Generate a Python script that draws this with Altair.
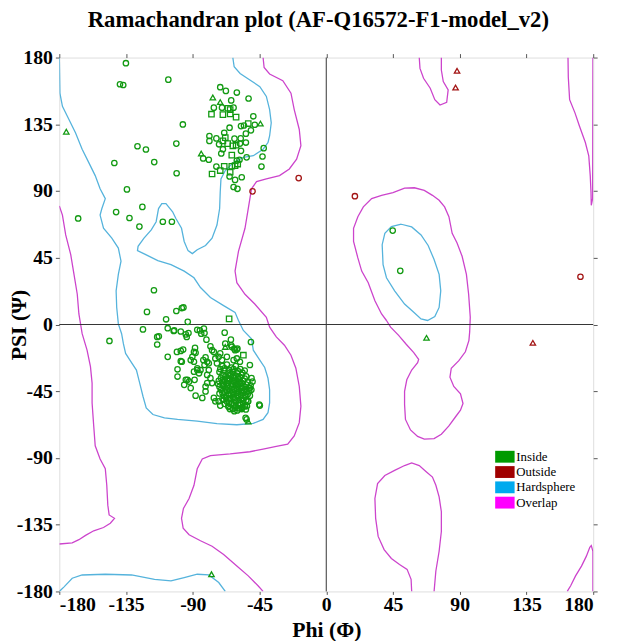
import altair as alt
import pandas as pd

TITLE = "Ramachandran plot (AF-Q16572-F1-model_v2)"
X_TITLE = "Phi (Φ)"
Y_TITLE = "PSI (Ψ)"
TICKS = [-180, -135, -90, -45, 0, 45, 90, 135, 180]
LEGEND_LABELS = ["Inside", "Outside", "Hardsphere", "Overlap"]
LEGEND_COLORS = ["#009a00", "#a00000", "#00aaee", "#ff00ff"]
POINT_COLORS = ["#129a12", "#a31515"]
HARD_COLOR = "#55b3dc"
OVER_COLOR = "#cc44cc"
FONT = "Liberation Serif"

# ---------- contours (phi, psi) ----------
HARD_MAIN = [(-180, 180), (-179.6, 156), (-177.9, 147.1), (-173.5, 138.2), (-169.1, 129.3), (-164.6, 118.2),
             (-160.2, 109.3), (-155.8, 100.4), (-152.5, 91.5), (-149, 84.9), (-151.3, 78.2), (-152.5, 73.8),
             (-150.2, 64.9), (-144.6, 58.2), (-140.2, 51.5), (-138.4, 42.7), (-140.2, 33.8), (-141.7, 22.7),
             (-141.3, 11.5), (-140.2, 0.4), (-138, -6.2), (-136.8, -12.9), (-135.3, -19.5), (-132.4, -24),
             (-128, -30.7), (-125.8, -39.5), (-123.6, -48.4), (-121.4, -56.2), (-116.9, -60.7), (-109.1, -62.9),
             (-100.3, -64), (-87, -65.1), (-73.7, -66.9), (-60.3, -67.6), (-49.2, -66.7), (-42.6, -64),
             (-39.3, -59.5), (-38.2, -52.9), (-38.2, -44), (-39.3, -36.2), (-41.5, -29), (-44.8, -24),
             (-49.2, -17.3), (-50.4, -9.6), (-55.9, -4), (-59.2, 2.7), (-61.5, 8.2), (-69.2, 12.7),
             (-78.1, 18.2), (-84.8, 24.9), (-89.2, 31.5), (-95.8, 36), (-104.7, 40.4), (-113.6, 43.1),
             (-122.4, 47.5), (-127.3, 49.8), (-126.9, 52.7), (-122.9, 58.2), (-118, 63.8), (-114.7, 69.3),
             (-113.1, 78.2), (-110.9, 81.5), (-108.1, 81.5), (-103.6, 76), (-101.4, 71.5), (-97.6, 64.9),
             (-95.8, 56), (-93.2, 49.8), (-90.3, 47.8), (-87, 50.4), (-81.4, 53.3), (-77, 58.2), (-73.7, 67.1),
             (-71.9, 78.2), (-71.5, 89.3), (-71, 98.2), (-68.1, 103.8), (-62.5, 109.3), (-55.9, 112.7),
             (-49.2, 113.8), (-42.6, 118.2), (-39.3, 122.7), (-38.2, 127.1), (-37.1, 136), (-38.2, 144.9),
             (-40.4, 153.8), (-44.8, 160.4), (-51.5, 164.9), (-58.1, 169.3), (-62.1, 173.8), (-63, 180)]
HARD_BOTTOM = [(-180, -180), (-176.8, -176.9), (-171.3, -171.1), (-164.6, -168.9), (-149, -168.4),
               (-131.3, -168.9), (-115.8, -171.8), (-104.7, -172.9), (-95.8, -170.7), (-87, -168.4),
               (-79.2, -168.9), (-72.5, -174), (-68.1, -180)]
HARD_OVAL = [(50.6, 67.6), (57.6, 65.8), (63.9, 60.4), (68.7, 53.3), (72.7, 43.8), (76.1, 33.8), (77.2, 22.7),
             (76.1, 11.5), (73.2, 5.3), (68.3, 2.7), (63.9, 3.8), (59, 8.2), (52.8, 13.8), (46.1, 22.7),
             (40.6, 31.5), (38.3, 40.4), (37.7, 53.8), (39.5, 61.5), (43.9, 66), (50.6, 67.6)]

OVER_LEFT = [(-180, 80), (-177.9, 73.8), (-175.7, 60.4), (-172.3, 47.1), (-170.1, 33.8), (-167.9, 20.4),
             (-166.8, 7.1), (-164.6, -6.2), (-161.3, -17.3), (-159, -28.4), (-157.9, -39.5), (-157.9, -52.9),
             (-156.8, -68.4), (-155.8, -81.8), (-152.5, -90.7), (-149, -97.3), (-148, -108.4), (-147.3, -121.8),
             (-146.4, -128.4), (-142.8, -130.7), (-145.6, -134), (-150.2, -136.9), (-156.8, -139.1),
             (-162.3, -142.2), (-166.8, -145.1), (-171.3, -147.3), (-180, -148)]
OVER_CENTER = [(-42.6, 180), (-41.9, 173.3), (-38.2, 168.9), (-29.3, 164.4), (-23.8, 156), (-21.6, 144.9),
               (-18.2, 131.5), (-17.1, 120.5), (-20, 111.5), (-24.9, 104.9), (-31.5, 100.4), (-40.4, 98.2),
               (-47, 96.4), (-50.4, 91.5), (-52.6, 78.2), (-54.8, 64.9), (-59.2, 49.3), (-61.5, 36),
               (-60.3, 28.2), (-54.8, 20.4), (-48.2, 13.8), (-40.4, 4.9), (-38.2, -1.8), (-33.7, -8.4),
               (-28.2, -14), (-23.8, -20.7), (-20.5, -29.5), (-18.2, -41.8), (-17.1, -55.1), (-18.2, -66.2),
               (-21.6, -75.1), (-26, -80.7), (-33.7, -82.2), (-42.6, -84), (-51.5, -85.8), (-64.8, -87.3),
               (-78.1, -88.4), (-83.6, -90.7), (-87, -97.3), (-89.2, -108.4), (-92.5, -117.3), (-96.3, -124),
               (-97.6, -130.7), (-96.5, -137.3), (-92.5, -141.8), (-84.8, -145.8), (-77, -149.5),
               (-69.2, -155.1), (-60.3, -162.9), (-52.6, -169.5), (-46, -176.2), (-42.6, -180)]
OVER_TOP = [(62.7, 180), (63.2, 172.7), (65.6, 166), (70.1, 159.3), (73.2, 151.6), (76.7, 148), (81.2, 149.8),
            (82.2, 158.2), (78.9, 163.8), (77.6, 171.6), (77.6, 180)]
OVER_RIGHT_TOP = [(163, 180), (163.2, 166.9), (164.1, 151.6), (167.7, 142.7), (170.7, 133.8), (174.7, 122.7),
                  (177, 113.8), (178, 100.4), (178.5, 89.3), (178.7, 80.4), (179.6, 84.9), (179.8, 180)]
OVER_MID = [(40.6, 2.7), (37.3, 7.1), (32.8, 16), (28.3, 28.2), (23.9, 36), (21.3, 44.9), (18.4, 56),
            (18.4, 64.9), (21.3, 72.7), (25, 79.3), (30.6, 84.9), (37.3, 87.1), (45, 88.9), (52.8, 92),
            (59.4, 92.2), (66.1, 90.4), (71.6, 87.1), (76.1, 83.8), (79.8, 79.3), (82.7, 72.7), (84.9, 61.5),
            (88.2, 54.9), (91.6, 46), (94.5, 33.8), (96, 20.4), (97.1, 4.9), (96.7, -5), (96.2, -10.7),
            (93.8, -18.4), (89.4, -24.4), (84.3, -29.5), (83.4, -35.5), (86, -41.8), (90.5, -46.7),
            (92.2, -53.3), (90.5, -57.8), (87.2, -62.2), (82.7, -68.4), (77.6, -74), (72.7, -76.9),
            (66.1, -77.3), (61.6, -75.5), (56.8, -71.1), (53.4, -64), (52.8, -54), (52.8, -45.1),
            (54.3, -37.3), (57.6, -30.7), (61.6, -25.8), (62.3, -23.5), (59, -18.9), (53.9, -13.3),
            (48.8, -7.3), (43.4, -1.8), (40.6, 2.7)]
OVER_BOTTOM = [(57.6, -180), (57.2, -171.8), (54.5, -165.1), (49.4, -161.8), (43.9, -157.8), (39, -151.8),
               (35, -142.9), (33.3, -130.7), (32.8, -117.3), (34.6, -107.3), (39.5, -101.8), (46.1, -98.4),
               (52.8, -95.1), (57.6, -93.3), (62.7, -95.1), (67.2, -99.1), (71.6, -102.9), (73.9, -108.4),
               (76.1, -116.2), (77.6, -126.2), (77.6, -139.6), (76.1, -152.9), (73.9, -166.2), (72.7, -180)]
OVER_RIGHT_BOTTOM = [(162.5, -180), (164.8, -176.2), (168.1, -169.5), (172.1, -162.9), (175.4, -156.2),
                     (177.7, -150.2), (178.7, -149.1), (179.8, -152.9), (179.8, -180)]

# ---------- residues (phi, psi) ----------
INSIDE_CIRCLE = [
    (-135.1, 176.2), (-139.1, 162), (-136.9, 161.5), (-106.5, 165.1), (-96.7, 134.9), (-127.3, 120.2),
    (-121.6, 118), (-101.1, 122), (-142.9, 108.9), (-116, 109.5), (-100.9, 102), (-134.4, 91.1),
    (-167.3, 71.5), (-141.7, 75.8), (-124, 79.3), (-132.7, 71.8), (-126, 66), (-110.2, 69.3), (-104.1, 69.3),
    (-71.5, 160), (-67.7, 157.5), (-60.3, 156.4), (-64.1, 151.1), (-52.4, 152.4), (-75.8, 146.2),
    (-70.3, 146.2), (-62.5, 146.2), (-49.2, 140.4), (-57.5, 133.8), (-55.5, 134.2), (-48.2, 134.7),
    (-65.2, 132.7), (-68.8, 129.3), (-78.8, 127.1), (-78.8, 123.8), (-74.1, 125.5), (-61.9, 125.3),
    (-57.7, 125.5), (-54.2, 128.7), (-50.8, 130.9), (-72.3, 121.5), (-58.2, 122), (-54.2, 122.7),
    (-69.7, 118.2), (-70.8, 115.3), (-57.5, 117.1), (-42.2, 118.9), (-83, 112), (-79.2, 111.1),
    (-60.3, 110.5), (-58.5, 111.1), (-53.7, 112.7), (-43, 113.3), (-74.1, 106.5), (-43.7, 106.5),
    (-65.2, 99.8), (-61.5, 97.5), (-57, 99.3), (-62.5, 92.7), (-59.9, 91.5),
    (44.8, 63.3), (49.9, 36.2),
    (-116.2, 23.1), (-120.9, 8.5), (-101.1, 9.1), (-97.4, 11.1), (-96.3, 11.5), (-108, 3.5), (-93.4, 1.8),
    (-146.2, -11.1), (-123.6, -3.3), (-114, -8.4), (-112.9, -8), (-114, -13.5), (-106.9, -2.5),
    (-102.9, -4.4), (-98.1, -4.7), (-94.7, -6.7), (-92.9, -5.8), (-94.1, -8.4), (-87, -3.6), (-85.2, -4),
    (-82.5, -2.7), (-82.1, -5.8), (-84.3, -6.2), (-80.8, -10.2), (-68.5, -5.5), (-50.8, -11.8),
    (-78.1, -14.7), (-77, -17.3), (-75.8, -18.5), (-68.1, -12.9), (-64.3, -10.2), (-64.1, -14),
    (-62.1, -16.2), (-60.3, -16.9), (-100.7, -18.5), (-98.1, -17.8), (-96.5, -16.9), (-88.5, -15.8),
    (-88.1, -19.1), (-106.9, -21.8), (-98.1, -24.7), (-91.4, -24), (-100.3, -30.2), (-100.3, -35.1),
    (-94.7, -37.3), (-92.5, -38.5), (-91.4, -42.9), (-88.1, -48), (-83.6, -49.5), (-81.4, -22.2),
    (-82.9, -24), (-80.3, -25.1), (-79.2, -26.2), (-82.1, -27.3), (-87, -29.5), (-89.2, -31.8),
    (-85.8, -32.9), (-84.8, -30.7), (-79.2, -30.7), (-80.3, -34), (-78.1, -36.2), (-77, -39.5),
    (-80.3, -39.5), (-81.4, -45.1), (-75.8, -49.5), (-74.8, -51.8), (-72.5, -51.8), (-69.2, -50.7),
    (-73.7, -26.2), (-72.5, -21.8), (-71.5, -19.5), (-70.3, -24), (-74.8, -22.9), (-67, -21.8),
    (-62.5, -24), (-60.3, -22.9), (-58.2, -25.1), (-50.4, -36.2), (-49.7, -38.5), (-51.5, -42.9),
    (-53.7, -45.1), (-52.6, -51.8), (-54.8, -55.1), (-57, -56.2), (-44.8, -54.7), (-65.9, -55.5),
    (-61.5, -56.2), (-71.5, -54.7), (-54.4, -62.9), (-53.7, -64), (-51.5, -27.3), (-45.2, -54),
    (-54.2, -57.3), (-89.2, -18.5), (-90.3, -21.8), (-89.2, -25.1), (-95.8, -40.7), (-93.6, -37.3),
    (-88.8, -37.3), (-87, -30.7), (-81.4, -41.8), (-97.4, -25.1), (-102.5, -4), (-63.7, -15.1),
    (-61.5, -17.3), (-59.9, -16.2),
    # dense alpha-helix core
    (-70, -28), (-67, -27), (-64, -29), (-61, -28), (-58, -30), (-55, -31),
    (-72, -32), (-69, -31), (-66, -33), (-63, -32), (-60, -33), (-57, -34), (-54, -35),
    (-71, -36), (-68, -35), (-65, -37), (-62, -36), (-59, -37), (-56, -38), (-53, -39),
    (-73, -40), (-70, -39), (-67, -41), (-64, -40), (-61, -41), (-58, -40), (-55, -42), (-52, -43),
    (-71, -44), (-68, -43), (-65, -45), (-62, -44), (-59, -45), (-56, -46), (-53, -47),
    (-69, -48), (-66, -47), (-63, -49), (-60, -48), (-57, -50), (-54, -51),
    (-67, -52), (-64, -53), (-61, -52), (-58, -54), (-55, -55), (-63, -57), (-60, -58), (-57, -57),
    (-68.5, -37.5), (-65.5, -34.5), (-62.5, -38.5), (-59.5, -35.5), (-56.5, -41.5), (-63.5, -42.5),
    (-60.5, -43.5), (-57.5, -47.5), (-64.5, -46.5), (-61.5, -50.5), (-66.5, -39.5), (-69.5, -41.5),
    (-58.5, -38.5), (-55.5, -44.5), (-62, -47), (-59, -51), (-65, -50), (-67, -44.5), (-60, -39.5),
    (-63, -35), (-57, -43), (-54, -48), (-61, -55), (-66, -55), (-52, -45), (-70, -46), (-56, -53),
    (-71.5, -30), (-68.5, -29.5), (-65.5, -30.5), (-62.5, -30), (-59.5, -31.5), (-56.5, -32.5),
    (-70, -34), (-67, -36.5), (-64, -34), (-61, -34.5), (-58, -35.5), (-55, -36.5),
    (-72.5, -38), (-69.5, -37), (-66, -38), (-63, -38), (-60.5, -38), (-57, -39.5), (-54, -40.5), (-51, -41),
    (-72, -42), (-69, -40.5), (-66, -42.5), (-63, -41), (-60, -42), (-57.5, -42), (-54, -43.5), (-50.5, -44),
    (-72, -46.5), (-68.5, -45.5), (-65.5, -47.5), (-63, -45.5), (-60, -46), (-57.5, -45), (-55, -48.5),
    (-51.5, -48), (-70, -50), (-67.5, -49.5), (-64.5, -50.5), (-62, -49.5), (-59.5, -48.5), (-56, -51),
    (-53, -52), (-68.5, -53.5), (-65.5, -53), (-62.5, -54.5), (-59.5, -54), (-56.5, -55.5), (-53.5, -55),
    (-65, -57), (-62, -58.5), (-59, -56.5),
]
INSIDE_SQUARE = [
    (-66.3, 145.8), (-64.8, 144.9), (-77.4, 141.8), (-69.7, 141.5), (-64.8, 142), (-60.8, 139.8),
    (-52.6, 135.5), (-69.7, 123.8), (-68.1, 126), (-66.5, 122), (-63, 120.5), (-60.8, 120.9),
    (-63.7, 114.2), (-61.5, 107.1), (-59.7, 108.2), (-68.8, 106.7), (-63.7, 106.7), (-71.5, 103.8),
    (-64.8, 102.7), (-77, 101.5), (-65.5, 3.8), (-55.9, -20.7),
]
INSIDE_TRIANGLE = [
    (-76.5, 153.1), (-71.5, 150), (-44.4, 135.5), (-84.3, 115.3), (-175.3, 130),
    (-68.1, -15.1), (-52.6, -65.5), (-77.4, -168.4), (67.6, -9),
]
OUTSIDE_CIRCLE = [(-49.7, 89.8), (-18.6, 98.7), (19.3, 86.5), (171.4, 32.2)]
OUTSIDE_TRIANGLE = [(88.2, 171.1), (87.2, 159.8), (139.3, -12.4)]


def contour_frame(named):
    rows = []
    for cid, pts in named.items():
        for i, (phi, psi) in enumerate(pts):
            rows.append({"cid": cid, "i": i, "phi": phi, "psi": psi})
    return pd.DataFrame(rows)


hard_df = contour_frame({"main": HARD_MAIN, "bottom": HARD_BOTTOM, "oval": HARD_OVAL})
over_df = contour_frame({"left": OVER_LEFT, "center": OVER_CENTER, "top": OVER_TOP,
                         "rtop": OVER_RIGHT_TOP, "mid": OVER_MID, "bottom": OVER_BOTTOM,
                         "rbottom": OVER_RIGHT_BOTTOM})

pt_rows = []
for status, shape, pts in [("Inside", "circle", INSIDE_CIRCLE), ("Inside", "square", INSIDE_SQUARE),
                           ("Inside", "triangle", INSIDE_TRIANGLE), ("Outside", "circle", OUTSIDE_CIRCLE),
                           ("Outside", "triangle", OUTSIDE_TRIANGLE)]:
    for phi, psi in pts:
        pt_rows.append({"phi": phi, "psi": psi, "status": status, "shape": shape})
pts_df = pd.DataFrame(pt_rows)

# legend-only layer: its rows sit outside the clipped plot, so only the legend shows
legend_df = pd.DataFrame({"status": LEGEND_LABELS, "phi": [-999] * 4, "psi": [-999] * 4})
zero_df = pd.DataFrame({"v": [0]})

xs = alt.Scale(domain=[-180, 180], nice=False, zero=False)
ys = alt.Scale(domain=[-180, 180], nice=False, zero=False)

lab_expr = "datum.value + ''"
axis_common = dict(values=TICKS, grid=False, domain=False, labelFont=FONT, labelFontSize=20,
                   labelFontWeight="bold", labelColor="black", titleFont=FONT, titleFontSize=22,
                   titleFontWeight="bold", titleColor="black", tickColor="#555", labelExpr=lab_expr)
x_axis = alt.Axis(title=X_TITLE, orient="bottom", tickSize=3, labelPadding=0, titlePadding=6, **axis_common)
y_axis = alt.Axis(title=Y_TITLE, orient="left", tickSize=4, labelPadding=3, titleX=-34,
                  titleBaseline="alphabetic", **axis_common)
top_axis = alt.Axis(orient="top", labels=False, title=None, values=TICKS, grid=False, domain=False,
                    tickSize=4, tickColor="#555")
right_axis = alt.Axis(orient="right", labels=False, title=None, values=TICKS, grid=False, domain=False,
                      tickSize=4, tickColor="#555")

hard = alt.Chart(hard_df).mark_line(color=HARD_COLOR, strokeWidth=1.3, clip=True).encode(
    x=alt.X("phi:Q", scale=xs, axis=x_axis),
    y=alt.Y("psi:Q", scale=ys, axis=y_axis),
    detail="cid:N", order="i:Q")
over = alt.Chart(over_df).mark_line(color=OVER_COLOR, strokeWidth=1.3, clip=True).encode(
    x=alt.X("phi:Q", scale=xs, axis=None),
    y=alt.Y("psi:Q", scale=ys, axis=None),
    detail="cid:N", order="i:Q")
vrule = alt.Chart(zero_df).mark_rule(color="#333", strokeWidth=1).encode(
    x=alt.X("v:Q", scale=xs, axis=top_axis))
hrule = alt.Chart(zero_df).mark_rule(color="#333", strokeWidth=1).encode(
    y=alt.Y("v:Q", scale=ys, axis=right_axis))
points = alt.Chart(pts_df).mark_point(filled=False, size=30, strokeWidth=1.3, opacity=1).encode(
    x=alt.X("phi:Q", scale=xs, axis=None),
    y=alt.Y("psi:Q", scale=ys, axis=None),
    color=alt.Color("status:N", scale=alt.Scale(domain=["Inside", "Outside"], range=POINT_COLORS),
                    legend=None),
    shape=alt.Shape("shape:N", scale=alt.Scale(domain=["circle", "triangle", "square"],
                                               range=["circle", "triangle-up", "square"]), legend=None))
legend_layer = alt.Chart(legend_df).mark_square(filled=True, clip=True, size=10).encode(
    x=alt.X("phi:Q", scale=xs, axis=None),
    y=alt.Y("psi:Q", scale=ys, axis=None),
    color=alt.Color("status:N", scale=alt.Scale(domain=LEGEND_LABELS, range=LEGEND_COLORS),
                    legend=alt.Legend(
                        title=None, orient="none", legendX=445, legendY=398, padding=0,
                        symbolType="M-1.64,-1H1.64V1H-1.64Z", symbolSize=144, symbolStrokeWidth=0,
                        symbolOpacity=1, labelFont=FONT, labelFontSize=13, labelColor="black",
                        labelOffset=5, rowPadding=1.5)))

chart = alt.layer(hard, over, vrule, hrule, points, legend_layer).resolve_axis(
    x="independent", y="independent").resolve_scale(color="independent").properties(
    width=541, height=541,
    padding={"left": 52, "top": 46, "right": 16, "bottom": 46},
    autosize=alt.AutoSizeParams(type="none"),
    title=alt.Title(TITLE, font=FONT, fontSize=23, fontWeight="bold", color="black",
                    anchor="middle", offset=16, dx=-8),
).configure_view(stroke="#666", strokeWidth=1.3).configure(background="white")

chart.save("out.html", embed_options={"renderer": "svg", "actions": False})
